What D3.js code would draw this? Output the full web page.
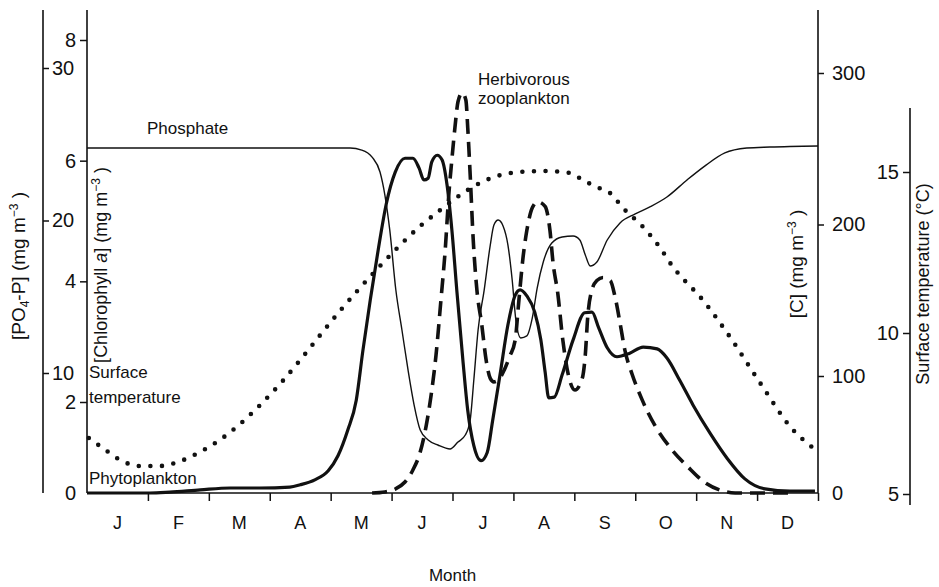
<!DOCTYPE html>
<html>
<head>
<meta charset="utf-8">
<script src="https://cdn.jsdelivr.net/npm/d3@7"></script>
<style>
  body { margin: 0; background: #fff; }
  svg text { font-family: "Liberation Sans", Arial, sans-serif; fill: #111; }
</style>
</head>
<body>
<svg id="chart" width="939" height="587"></svg>
<script>
// ---- data -------------------------------------------------------------
const months = ["J", "F", "M", "A", "M", "J", "J", "A", "S", "O", "N", "D"];
const po4Ticks = [10, 20, 30];
const chlTicks = [0, 2, 4, 6, 8];
const carbonTicks = [0, 100, 200, 300];
const tempTicks = [5, 10, 15];

// [month of year (0 = 1 Jan), value]
// Phosphate, PO4-P (mg m-3)
const phosphate = [
  [0, 24.75], [4.32, 24.75], [4.51, 24.62], [4.68, 24.16], [4.81, 23.18], [4.89, 21.67],
  [4.97, 19.38], [5.07, 15.44], [5.17, 12.82], [5.27, 10.2], [5.37, 7.33], [5.47, 5.25],
  [5.60, 4.42], [5.76, 4.0], [5.96, 3.67], [6.09, 4.25], [6.21, 4.83], [6.29, 6.08],
  [6.35, 9.42], [6.42, 12.82], [6.52, 15.44], [6.62, 18.39], [6.68, 19.7], [6.75, 20.03],
  [6.83, 19.64], [6.91, 18.39], [6.98, 16.1], [7.04, 13.48], [7.12, 12.3], [7.22, 12.43],
  [7.31, 13.61], [7.39, 15.57], [7.49, 17.28], [7.63, 18.52], [7.80, 18.92], [7.98, 18.98],
  [8.09, 18.72], [8.18, 17.74], [8.26, 17.02], [8.37, 17.28], [8.54, 18.72], [8.75, 19.84],
  [9.00, 20.43], [9.24, 20.89], [9.52, 21.54], [9.85, 22.66], [10.14, 23.57], [10.47, 24.43],
  [10.83, 24.75], [11.21, 24.82], [12, 24.89]
];

// Phytoplankton, chlorophyll a (mg m-3)
const phytoplankton = [
  [0, 0], [1.03, 0], [1.36, 0.02], [1.86, 0.07], [2.35, 0.11], [2.84, 0.11], [3.33, 0.13],
  [3.5, 0.18], [3.74, 0.29], [3.96, 0.49], [4.12, 0.82], [4.28, 1.38], [4.42, 2.03],
  [4.53, 2.86], [4.65, 3.69], [4.78, 4.52], [4.91, 5.27], [5.06, 5.81], [5.22, 6.04],
  [5.35, 6.04], [5.45, 5.88], [5.53, 5.68], [5.60, 5.71], [5.66, 5.98], [5.75, 6.09],
  [5.83, 6.01], [5.91, 5.6], [5.99, 4.85], [6.07, 3.86], [6.17, 2.7], [6.25, 1.82],
  [6.35, 1.04], [6.47, 0.71], [6.57, 0.89], [6.66, 1.6], [6.78, 2.45], [6.91, 3.28],
  [7.03, 3.77], [7.11, 3.86], [7.22, 3.76], [7.35, 3.49], [7.45, 3.03], [7.52, 2.5],
  [7.58, 2.07], [7.67, 2.08], [7.80, 2.45], [7.98, 3.03], [8.17, 3.48], [8.29, 3.49],
  [8.40, 3.23], [8.54, 2.9], [8.70, 2.75], [8.91, 2.81], [9.13, 2.91], [9.36, 2.88],
  [9.52, 2.73], [9.73, 2.36], [9.95, 1.93], [10.23, 1.31], [10.51, 0.76], [10.80, 0.31],
  [11.13, 0.09], [11.54, 0.04], [11.95, 0.04]
];

// Herbivorous zooplankton, carbon (mg m-3)
const zooplankton = [
  [4.68, 0], [4.89, 0.9], [5.06, 3.4], [5.22, 9.4], [5.35, 19.7], [5.47, 35], [5.57, 58],
  [5.65, 84], [5.73, 114], [5.81, 150], [5.88, 183], [5.94, 220], [5.99, 243], [6.04, 264],
  [6.09, 281], [6.16, 287], [6.22, 282], [6.25, 264], [6.29, 233], [6.34, 190], [6.40, 157],
  [6.48, 134], [6.55, 111], [6.62, 98], [6.68, 95], [6.76, 97], [6.85, 104], [6.94, 113],
  [7.03, 124], [7.09, 150], [7.16, 179], [7.22, 196], [7.31, 211], [7.40, 215], [7.52, 212],
  [7.60, 196], [7.65, 175], [7.73, 154], [7.81, 124], [7.90, 101], [8.01, 88], [8.13, 98],
  [8.18, 114], [8.22, 139], [8.29, 157], [8.37, 163], [8.47, 165], [8.59, 163], [8.67, 152],
  [8.75, 135], [8.83, 117], [8.95, 101], [9.11, 80], [9.32, 58], [9.57, 39], [9.87, 22],
  [10.14, 9], [10.42, 2], [10.64, 0], [11.54, 0]
];

// Surface temperature (deg C)
const temperature = [
  [0.03, 6.74], [0.30, 6.37], [0.54, 6.06], [0.87, 5.87], [1.20, 5.87], [1.53, 6.02],
  [1.85, 6.30], [2.18, 6.68], [2.51, 7.17], [2.84, 7.76], [3.17, 8.42], [3.50, 9.16],
  [3.83, 9.94], [4.15, 10.68], [4.48, 11.40], [4.81, 12.08], [5.14, 12.73], [5.47, 13.32],
  [5.80, 13.82], [6.13, 14.29], [6.45, 14.66], [6.78, 14.9], [7.11, 15.0], [7.49, 15.03],
  [7.93, 14.97], [8.14, 14.75], [8.37, 14.53], [8.59, 14.34], [8.80, 13.88], [9.13, 13.29],
  [9.40, 12.67], [9.62, 12.05], [9.85, 11.55], [10.01, 11.24], [10.51, 10.0], [11.05, 8.45],
  [11.59, 6.99], [11.90, 6.46]
];

// ---- layout & scales ---------------------------------------------------
const plotLeft = 87, plotRight = 818, base = 493, axisTop = 10;
const ink = "#111";
const font = '"Liberation Sans", Arial, sans-serif';

const x = d3.scaleLinear().domain([0, 12]).range([plotLeft, plotRight]);
const xMonth = d3.scaleBand().domain(d3.range(12)).range([plotLeft, plotRight]);
const yPO4 = d3.scaleLinear().domain([0, 10, 30]).range([base, 373, 68]);
const yChl = d3.scaleLinear().domain([0, 2, 8]).range([base, 402, 40]);
const yC = d3.scaleLinear().domain([0, 100, 300]).range([base, 376, 73]);
const yT = d3.scaleLinear().domain([5, 15]).range([494, 172]);

const svg = d3.select("#chart");

function styleAxis(sel, size) {
  sel.attr("font-family", font).attr("font-size", size);
  sel.select(".domain").remove();
  sel.selectAll(".tick line").attr("stroke", ink).attr("stroke-width", 1.5);
  sel.selectAll(".tick text").attr("fill", ink);
}

function vline(xp, y1, y2) {
  svg.append("line")
    .attr("x1", xp).attr("x2", xp).attr("y1", y1).attr("y2", y2)
    .attr("stroke", ink).attr("stroke-width", 1.6);
}

// axis spines
vline(43, axisTop, base);
vline(plotLeft, axisTop, base);
vline(plotRight, axisTop, base);
vline(910, 108, 505);
svg.append("line")
  .attr("x1", plotLeft).attr("x2", plotRight).attr("y1", base).attr("y2", base)
  .attr("stroke", ink).attr("stroke-width", 1.5);

// PO4-P axis (outer left)
svg.append("g").attr("transform", "translate(43,0)")
  .call(d3.axisRight(yPO4).tickValues(po4Ticks).tickSize(6).tickPadding(3))
  .call(s => styleAxis(s, 20));

// Chlorophyll a axis (inner left)
svg.append("g").attr("transform", `translate(${plotLeft},0)`)
  .call(d3.axisLeft(yChl).tickValues(chlTicks).tickSize(7).tickPadding(4))
  .call(s => styleAxis(s, 20))
  .call(s => s.selectAll(".tick").filter(d => d === 0).select("line").remove());

// Carbon axis (right)
svg.append("g").attr("transform", `translate(${plotRight},0)`)
  .call(d3.axisRight(yC).tickValues(carbonTicks).tickSize(6).tickPadding(8))
  .call(s => styleAxis(s, 20))
  .call(s => s.selectAll(".tick").filter(d => d === 0).select("line").remove());

// Temperature axis (far right)
svg.append("g").attr("transform", "translate(910,0)")
  .call(d3.axisLeft(yT).tickValues(tempTicks).tickSize(7).tickPadding(4))
  .call(s => styleAxis(s, 20));

// month boundaries and month initials
svg.append("g").attr("transform", `translate(0,${base})`)
  .call(d3.axisBottom(x).tickValues(d3.range(1, 13)).tickSize(8).tickFormat(""))
  .call(s => styleAxis(s, 18));
svg.append("g").attr("transform", `translate(0,${base})`)
  .call(d3.axisBottom(xMonth).tickSize(0).tickPadding(23).tickFormat(i => months[i]))
  .call(s => styleAxis(s, 18));

// ---- series --------------------------------------------------------------
function draw(data, yScale, attrs) {
  const line = d3.line()
    .x(d => x(d[0]))
    .y(d => yScale(d[1]))
    .curve(d3.curveMonotoneX);
  const p = svg.append("path").datum(data).attr("d", line).attr("fill", "none").attr("stroke", ink);
  Object.entries(attrs).forEach(([k, v]) => p.attr(k, v));
}

draw(temperature, yT, { "stroke-width": 4.6, "stroke-linecap": "round", "stroke-dasharray": "0 11.6" });
draw(phosphate, yPO4, { "stroke-width": 1.4 });
draw(phytoplankton, yChl, { "stroke-width": 3.2, "stroke-linejoin": "round" });
draw(zooplankton, yC, { "stroke-width": 3.6, "stroke-dasharray": "15 8" });

// ---- labels --------------------------------------------------------------
function label(txt, xp, yp, size) {
  svg.append("text").attr("x", xp).attr("y", yp).attr("font-size", size).text(txt);
}
label("Phosphate", 147, 134, 17);
label("Herbivorous", 478, 85, 17);
label("zooplankton", 478, 104, 17);
label("Surface", 89, 378, 17);
label("temperature", 89, 403, 17);
label("Phytoplankton", 89, 484, 17);

svg.append("text").attr("x", (plotLeft + plotRight) / 2).attr("y", 581)
  .attr("text-anchor", "middle").attr("font-size", 17).text("Month");

function vlabel(xp, yc, parts, size) {
  const t = svg.append("text")
    .attr("transform", `translate(${xp},${yc}) rotate(-90)`)
    .attr("text-anchor", "middle").attr("font-size", size);
  parts.forEach(pt => {
    const s = t.append("tspan").text(pt.t);
    if (pt.dy) s.attr("dy", pt.dy);
    if (pt.size) s.attr("font-size", pt.size);
    if (pt.italic) s.attr("font-style", "italic");
  });
}
vlabel(25, 266, [
  { t: "[PO" }, { t: "4", dy: 4, size: 12 }, { t: "-P] (mg m", dy: -4 },
  { t: "\u22123", dy: -7, size: 12 }, { t: " )", dy: 7 }
], 19);
vlabel(107, 265, [
  { t: "[Chlorophyll " }, { t: "a", italic: true }, { t: "] (mg m" },
  { t: "\u22123", dy: -7, size: 12 }, { t: " )", dy: 7 }
], 18);
vlabel(803, 264, [
  { t: "[C] (mg m" }, { t: "\u22123", dy: -7, size: 12 }, { t: " )", dy: 7 }
], 19);
vlabel(929, 284, [{ t: "Surface temperature (\u00b0C)" }], 18);
</script>
</body>
</html>
